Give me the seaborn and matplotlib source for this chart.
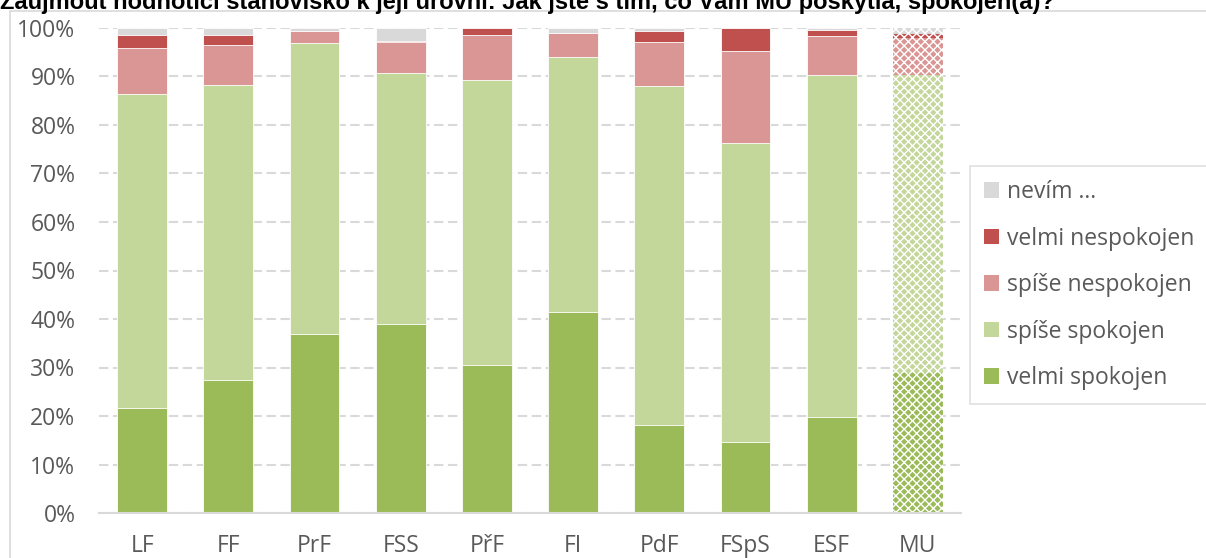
import matplotlib
matplotlib.use("Agg")
import matplotlib.pyplot as plt
from matplotlib.patches import Patch, Rectangle
from matplotlib.ticker import PercentFormatter
import numpy as np
import pandas as pd
import seaborn as sns

# Faculties and answer shares (in %)
faculties = ["LF", "FF", "PrF", "FSS", "PřF", "FI", "PdF", "FSpS", "ESF", "MU"]
velmi_spokojen = [21.6, 27.4, 36.9, 39.0, 30.5, 41.4, 18.1, 14.6, 19.8, 28.9]
spise_spokojen = [64.8, 60.8, 60.0, 51.7, 58.8, 52.6, 69.9, 61.7, 70.5, 61.4]
spise_nespokojen = [9.5, 8.3, 2.5, 6.4, 9.3, 5.0, 9.1, 19.0, 8.1, 7.6]
velmi_nespokojen = [2.7, 2.1, 0.0, 0.3, 1.4, 0.0, 2.3, 4.7, 1.2, 0.9]
nevim = [1.4, 1.4, 0.6, 2.6, 0.0, 1.0, 0.6, 0.0, 0.4, 1.2]

series_labels = ["velmi spokojen", "spíše spokojen", "spíše nespokojen",
                 "velmi nespokojen", "nevím ..."]
series_colors = ["#9BBB59", "#C4D79B", "#DA9694", "#C0504D", "#D9D9D9"]

title = "Zaujmout hodnotící stanovisko k její úrovni: Jak jste s tím, co Vám MU poskytla, spokojen(a)?"

sns.set_style("white")
plt.rcParams["font.family"] = ["Open Sans", "DejaVu Sans"]
plt.rcParams["hatch.linewidth"] = 1.0

df = pd.DataFrame({
    "fakulta": faculties,
    "velmi spokojen": velmi_spokojen,
    "spíše spokojen": spise_spokojen,
    "spíše nespokojen": spise_nespokojen,
    "velmi nespokojen": velmi_nespokojen,
    "nevím ...": nevim,
})
stack = df[series_labels].cumsum(axis=1)
stack["fakulta"] = df["fakulta"]

fig = plt.figure(figsize=(12.06, 5.58), dpi=100)
ax = fig.add_axes([99 / 1206, 1 - 513 / 558, 862 / 1206, 485 / 558])

# Stacked bars: draw cumulative totals from the top layer down
for label, color in reversed(list(zip(series_labels, series_colors))):
    sns.barplot(data=stack, x="fakulta", y=label, order=faculties,
                color=color, saturation=1, width=0.58, ax=ax,
                edgecolor="white", linewidth=0.6, errorbar=None)

# Whole-university bar gets a patterned fill
n = len(faculties)
for i, p in enumerate(ax.patches):
    if i % n == n - 1:
        p.set_hatch("xxxx")
        p.set_edgecolor("white")
        p.set_linewidth(0)

ax.set_xlim(-0.5, n - 0.5)
ax.set_ylim(0, 100)
ax.set_yticks(np.arange(0, 101, 10))
ax.yaxis.set_major_formatter(PercentFormatter(decimals=0))
ax.set_xlabel("")
ax.set_ylabel("")

ax.set_axisbelow(True)
ax.yaxis.grid(True, color="#D9D9D9", linewidth=1.5, linestyle=(0, (4.5, 2.2)))
ax.xaxis.grid(False)
for side in ["top", "right", "left"]:
    ax.spines[side].set_visible(False)
ax.spines["bottom"].set_color("#D9D9D9")
ax.spines["bottom"].set_linewidth(1.5)

ax.tick_params(axis="y", length=0, pad=17, labelsize=16.5, labelcolor="#595959")
ax.tick_params(axis="x", length=0, pad=15, labelsize=16.5, labelcolor="#595959")

# Legend on the right, top series first
handles = [Patch(facecolor=c, edgecolor="none")
           for c in reversed(series_colors)]
leg = fig.legend(handles, list(reversed(series_labels)),
                 loc="upper left", bbox_to_anchor=(970 / 1206, 1 - 166 / 558),
                 frameon=True, fancybox=False, fontsize=16.5,
                 labelcolor="#595959", handlelength=0.66, handleheight=0.66,
                 handletextpad=0.35, labelspacing=0.98, borderpad=0.62,
                 borderaxespad=0)
leg.get_frame().set_edgecolor("#D9D9D9")
leg.get_frame().set_linewidth(1.2)

# Chart frame
fig.add_artist(Rectangle((10 / 1206, -0.1), 1.2, 1.1 - 11 / 558,
                         transform=fig.transFigure, fill=False,
                         edgecolor="#D9D9D9", linewidth=1.2, clip_on=False))

fig.text(0, 1 - 9 / 558, title, ha="left", va="baseline",
         fontsize=17, fontweight="bold", color="black",
         family=["Liberation Sans", "DejaVu Sans"])

fig.savefig("out.png", dpi=100)
